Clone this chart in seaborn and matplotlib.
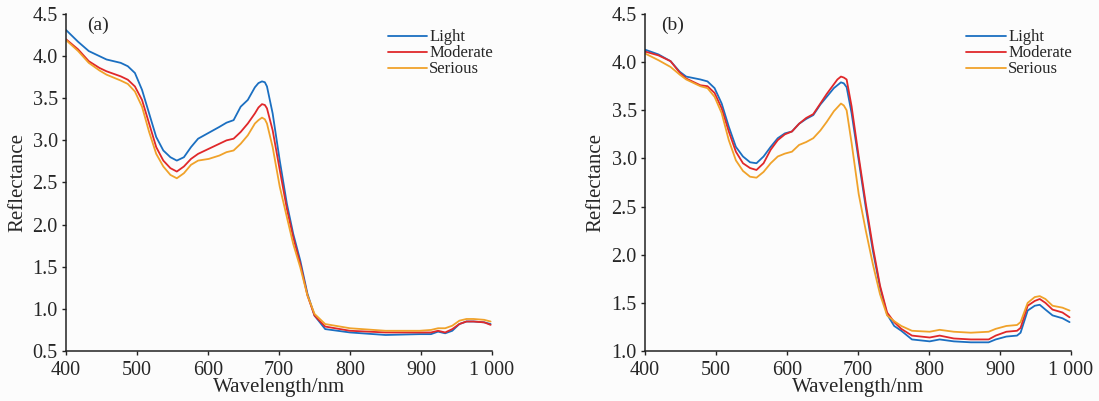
import pandas as pd
import matplotlib.pyplot as plt
import seaborn as sns

# panel (a) spectra
wl_a = [400, 417, 432, 447, 457, 477, 487, 497, 507, 517, 527, 537, 547, 556, 566, 576, 586,
        601, 616, 626, 636, 646, 656, 666, 671, 676, 680, 683, 691, 701, 711, 720, 730, 740,
        750, 765, 800, 850, 898, 914, 924, 934, 944, 954, 964, 974, 989, 998]
light_a = [4.31, 4.17, 4.06, 4.00, 3.96, 3.92, 3.88, 3.80, 3.60, 3.32, 3.04, 2.88, 2.80, 2.76,
           2.80, 2.92, 3.02, 3.09, 3.16, 3.21, 3.24, 3.40, 3.48, 3.63, 3.68, 3.70, 3.69, 3.64,
           3.32, 2.76, 2.25, 1.89, 1.57, 1.18, 0.92, 0.76, 0.72, 0.69, 0.70, 0.70, 0.73, 0.71,
           0.74, 0.82, 0.85, 0.85, 0.84, 0.82]
moderate_a = [4.20, 4.08, 3.94, 3.86, 3.82, 3.76, 3.72, 3.64, 3.48, 3.20, 2.92, 2.76, 2.67, 2.63,
              2.69, 2.78, 2.84, 2.90, 2.96, 3.00, 3.02, 3.10, 3.20, 3.32, 3.39, 3.43, 3.42, 3.38,
              3.12, 2.65, 2.19, 1.85, 1.53, 1.16, 0.92, 0.79, 0.74, 0.72, 0.72, 0.72, 0.74, 0.72,
              0.76, 0.82, 0.85, 0.85, 0.84, 0.81]
serious_a = [4.19, 4.06, 3.92, 3.83, 3.78, 3.71, 3.67, 3.58, 3.40, 3.10, 2.84, 2.69, 2.59, 2.55,
             2.61, 2.71, 2.76, 2.78, 2.82, 2.86, 2.88, 2.96, 3.06, 3.20, 3.24, 3.27, 3.25, 3.20,
             2.92, 2.45, 2.09, 1.77, 1.49, 1.16, 0.94, 0.82, 0.77, 0.74, 0.74, 0.75, 0.77, 0.77,
             0.80, 0.86, 0.88, 0.88, 0.87, 0.85]

# panel (b) spectra
wl_b = [400, 419, 436, 449, 458, 478, 488, 498, 508, 518, 528, 538, 548, 557, 567, 577, 587,
        597, 607, 617, 627, 637, 647, 656, 666, 671, 676, 680, 684, 691, 701, 711, 721, 731,
        741, 751, 761, 776, 801, 815, 835, 859, 884, 894, 909, 924, 929, 939, 949, 956, 964,
        974, 988, 998]
light_b = [4.13, 4.08, 4.01, 3.90, 3.85, 3.82, 3.80, 3.73, 3.57, 3.33, 3.12, 3.02, 2.96, 2.95,
           3.02, 3.12, 3.21, 3.26, 3.28, 3.36, 3.41, 3.45, 3.56, 3.64, 3.73, 3.76, 3.79, 3.78,
           3.74, 3.47, 2.98, 2.49, 2.04, 1.66, 1.38, 1.26, 1.21, 1.12, 1.10, 1.12, 1.10, 1.09,
           1.09, 1.12, 1.15, 1.16, 1.19, 1.42, 1.47, 1.48, 1.43, 1.37, 1.34, 1.30]
moderate_b = [4.11, 4.07, 4.01, 3.89, 3.83, 3.76, 3.75, 3.68, 3.52, 3.28, 3.07, 2.95, 2.90, 2.88,
              2.95, 3.09, 3.19, 3.25, 3.28, 3.36, 3.42, 3.46, 3.57, 3.67, 3.77, 3.82, 3.85, 3.84,
              3.82, 3.54, 3.02, 2.53, 2.08, 1.68, 1.40, 1.30, 1.23, 1.16, 1.14, 1.16, 1.13, 1.12,
              1.12, 1.16, 1.20, 1.21, 1.24, 1.47, 1.52, 1.54, 1.50, 1.43, 1.40, 1.35]
serious_b = [4.09, 4.02, 3.95, 3.87, 3.82, 3.75, 3.73, 3.64, 3.47, 3.19, 2.98, 2.87, 2.81, 2.80,
             2.86, 2.95, 3.02, 3.05, 3.07, 3.14, 3.17, 3.21, 3.29, 3.38, 3.49, 3.53, 3.57, 3.55,
             3.50, 3.16, 2.63, 2.25, 1.90, 1.59, 1.37, 1.31, 1.26, 1.21, 1.20, 1.22, 1.20, 1.19,
             1.20, 1.23, 1.26, 1.27, 1.30, 1.50, 1.56, 1.57, 1.54, 1.47, 1.45, 1.42]

levels = ['Light', 'Moderate', 'Serious']
colors = ['#1b6fc1', '#e0282a', '#f0a22a']


def longform(wl, series):
    rows = []
    for name, vals in zip(levels, series):
        for w, v in zip(wl, vals):
            rows.append((w, v, name))
    return pd.DataFrame(rows, columns=['wl', 'refl', 'level'])


sns.set_theme(style='ticks')
plt.rcParams['font.family'] = ['Liberation Serif', 'DejaVu Serif']
plt.rcParams['xtick.direction'] = 'out'
plt.rcParams['ytick.direction'] = 'out'

fig = plt.figure(figsize=(10.99, 4.01), dpi=100)
fig.patch.set_facecolor('#fcfcfc')
ax_a = fig.add_axes([0.0601, 0.1247, 0.3876, 0.8404])
ax_b = fig.add_axes([0.5869, 0.1247, 0.3876, 0.8404])

panels = [
    (ax_a, longform(wl_a, [light_a, moderate_a, serious_a]), (0.5, 4.5), '(a)', 0.049),
    (ax_b, longform(wl_b, [light_b, moderate_b, serious_b]), (1.0, 4.5), '(b)', 0.038),
]

for ax, df, ylim, tag, tx in panels:
    ax.set_facecolor('#fcfcfc')
    sns.lineplot(data=df, x='wl', y='refl', hue='level', palette=colors, linewidth=1.3, ax=ax)
    ax.set_xlim(400, 1000)
    ax.set_ylim(*ylim)
    ax.set_xticks([400, 500, 600, 700, 800, 900, 1000])
    ax.set_xticklabels(['400', '500', '600', '700', '800', '900', '1 000'])
    yt = [v / 2 for v in range(int(ylim[0] * 2), 10)]
    ax.set_yticks(yt)
    ax.set_yticklabels(['%.1f' % v for v in yt])
    ax.tick_params(labelsize=14.5, length=3, width=1, pad=3, color='#222222')
    ax.tick_params(axis='x', pad=4)
    ax.set_xlabel('Wavelength/nm', fontsize=15, labelpad=-1)
    ax.set_ylabel('Reflectance', fontsize=15, labelpad=4)
    sns.despine(ax=ax)
    for s in ['left', 'bottom']:
        ax.spines[s].set_linewidth(1.1)
        ax.spines[s].set_color('#222222')
    ax.text(tx, 0.967, tag, transform=ax.transAxes, fontsize=14, va='center', ha='left')
    sns.move_legend(ax, 'upper right', bbox_to_anchor=(1.01, 0.964), frameon=False, title=None,
                    fontsize=12, handlelength=2.35, handletextpad=0.15, labelspacing=0.0,
                    borderaxespad=0, borderpad=0.2)

fig.savefig('out.png', dpi=100, facecolor=fig.get_facecolor())
